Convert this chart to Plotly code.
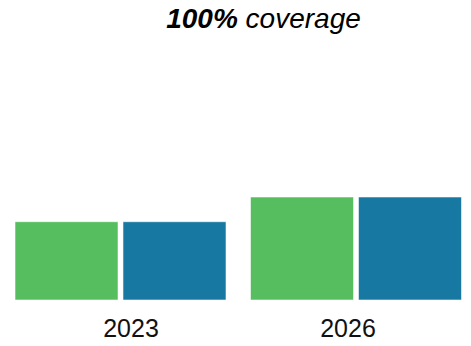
import plotly.graph_objects as go

years = ["2023", "2026"]
series_a_name = "Series A"
series_b_name = "Series B"
series_a = [76, 100]
series_b = [76, 100]

green = "#56BE5E"
blue = "#1779A2"
edge = "rgba(255,255,255,0.55)"

fig = go.Figure()
fig.add_trace(go.Bar(x=years, y=series_a, name=series_a_name,
                     marker=dict(color=green, line=dict(color=edge, width=1)),
                     showlegend=False))
fig.add_trace(go.Bar(x=years, y=series_b, name=series_b_name,
                     marker=dict(color=blue, line=dict(color=edge, width=1)),
                     showlegend=False))
# carrier for the category labels (separate axis so labels sit where the reference puts them)
fig.add_trace(go.Scatter(x=years, y=[0, 0], xaxis="x2", mode="markers",
                         marker=dict(opacity=0), hoverinfo="skip", showlegend=False))

fig.update_layout(
    width=471, height=346,
    margin=dict(l=0, r=0, t=80, b=46),
    paper_bgcolor="white", plot_bgcolor="white",
    barmode="group", bargap=0.083, bargroupgap=0.046,
    title=dict(text="<b><i>100%</i></b><i> coverage</i>",
               x=263.5 / 471, xref="container", xanchor="center",
               y=1 - 18 / 346, yref="container", yanchor="middle",
               font=dict(family="Liberation Sans, Arial", size=28, color="#000")),
    xaxis=dict(type="category", range=[-0.5117, 1.4883], showticklabels=False,
               showgrid=False, zeroline=False, showline=False, ticks=""),
    xaxis2=dict(type="category", overlaying="x", anchor="y", side="bottom",
                range=[-0.6037, 1.5668], showgrid=False, zeroline=False,
                showline=False, ticks="", ticklabelstandoff=11,
                tickfont=dict(family="Liberation Sans, Arial", size=25, color="#111")),
    yaxis=dict(range=[0, 213.6], visible=False, showgrid=False, zeroline=False),
)

fig.write_html("out.html", config={"displayModeBar": False},
               post_script="document.body.style.margin='0';")
